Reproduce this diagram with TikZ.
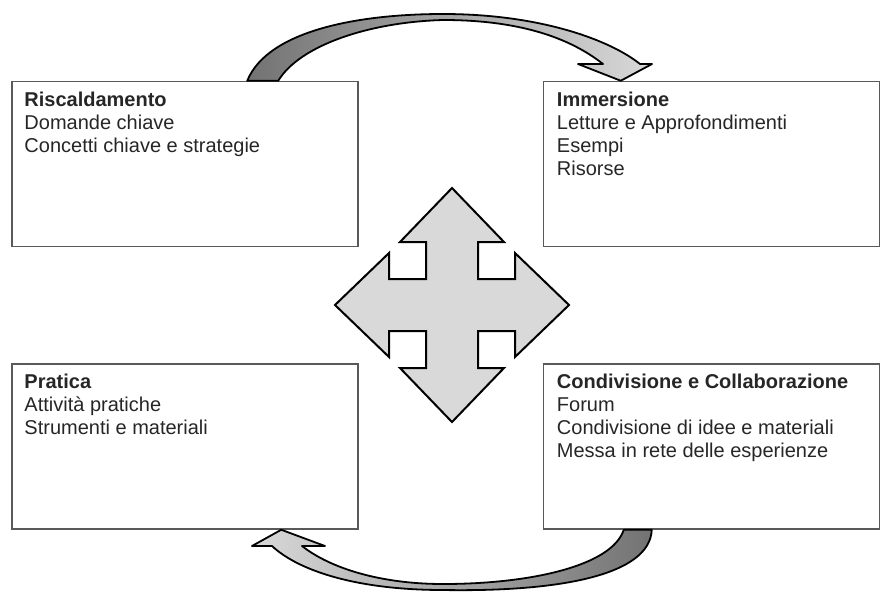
\documentclass[tikz,border=0pt]{standalone}
\usepackage{fontspec}
\setmainfont{Liberation Sans}

\begin{document}
\begin{tikzpicture}[x=1pt,y=-1pt,
  phase/.style={draw=black!65,line width=1.5pt,minimum width=#1,minimum height=165pt,inner sep=0pt},
  phasetext/.style={anchor=north west,align=left,inner sep=0pt,text=black!85,font=\fontsize{20}{23}\selectfont},
  bendarrow/.style={draw=black,line width=1.8pt,line join=round},
  cross/.style={draw=black,line width=2pt,fill=black!15,line join=miter}]
\useasboundingbox (0,0) rectangle (882,592);

\node[phase=346pt] (warmup) at (185,164) {};
\node[phase=336pt] (immersion) at (711.5,164) {};
\node[phase=346pt] (practice) at (185,446.5) {};
\node[phase=336pt] (sharing) at (711.5,446.5) {};

\node[phasetext] (warmup-text) at ([xshift=13pt,yshift=-11pt]warmup.north west) {\textbf{Riscaldamento}\\Domande chiave\\Concetti chiave e strategie};
\node[phasetext] (immersion-text) at ([xshift=14pt,yshift=-11pt]immersion.north west) {\textbf{Immersione}\\Letture e Approfondimenti\\Esempi\\Risorse};
\node[phasetext] (practice-text) at ([xshift=13pt,yshift=-11pt]practice.north west) {\textbf{Pratica}\\Attività pratiche\\Strumenti e materiali};
\node[phasetext] (sharing-text) at ([xshift=14pt,yshift=-11pt]sharing.north west) {\textbf{Condivisione e Collaborazione}\\Forum\\Condivisione di idee e materiali\\Messa in rete delle esperienze};

\coordinate (hub) at (452,305);
\draw[cross] (hub) +(0,-117) -- +(52,-63) -- +(26,-63) -- +(26,-26) -- +(63,-26) -- +(63,-52)
  -- +(117,0) -- +(63,52) -- +(63,26) -- +(26,26) -- +(26,63) -- +(52,63)
  -- +(0,117) -- +(-52,63) -- +(-26,63) -- +(-26,26) -- +(-63,26) -- +(-63,52)
  -- +(-117,0) -- +(-63,-52) -- +(-63,-26) -- +(-26,-26) -- +(-26,-63) -- +(-52,-63) -- cycle;

\coordinate (warmup-out) at ([xshift=236pt]warmup.north west);
\coordinate (immersion-in) at ([xshift=78pt]immersion.north west);
\path[bendarrow,left color=black!55,right color=black!15]
  (warmup-out) .. controls (268,30) and (360,14) .. (443,14)
  .. controls (540,14) and (610,40) .. (640,64) -- (652,64) -- (immersion-in) -- (578,64) -- (603,64)
  .. controls (570,38) and (520,20) .. (443,20)
  .. controls (370,22) and (300,45) .. ([xshift=31pt]warmup-out) -- cycle;

\coordinate (sharing-out) at ([xshift=81pt]sharing.south west);
\coordinate (practice-in) at ([xshift=270pt]practice.south west);
\path[bendarrow,left color=black!15,right color=black!55]
  ([xshift=28pt]sharing-out) .. controls (650,575) and (560,592) .. (443,590)
  .. controls (360,590) and (300,572) .. (272,546) -- (252,546) -- (practice-in) -- (325,546) -- (302,546)
  .. controls (330,568) and (380,584) .. (443,584)
  .. controls (530,584) and (612,566) .. (sharing-out) -- cycle;
\end{tikzpicture}
\end{document}
